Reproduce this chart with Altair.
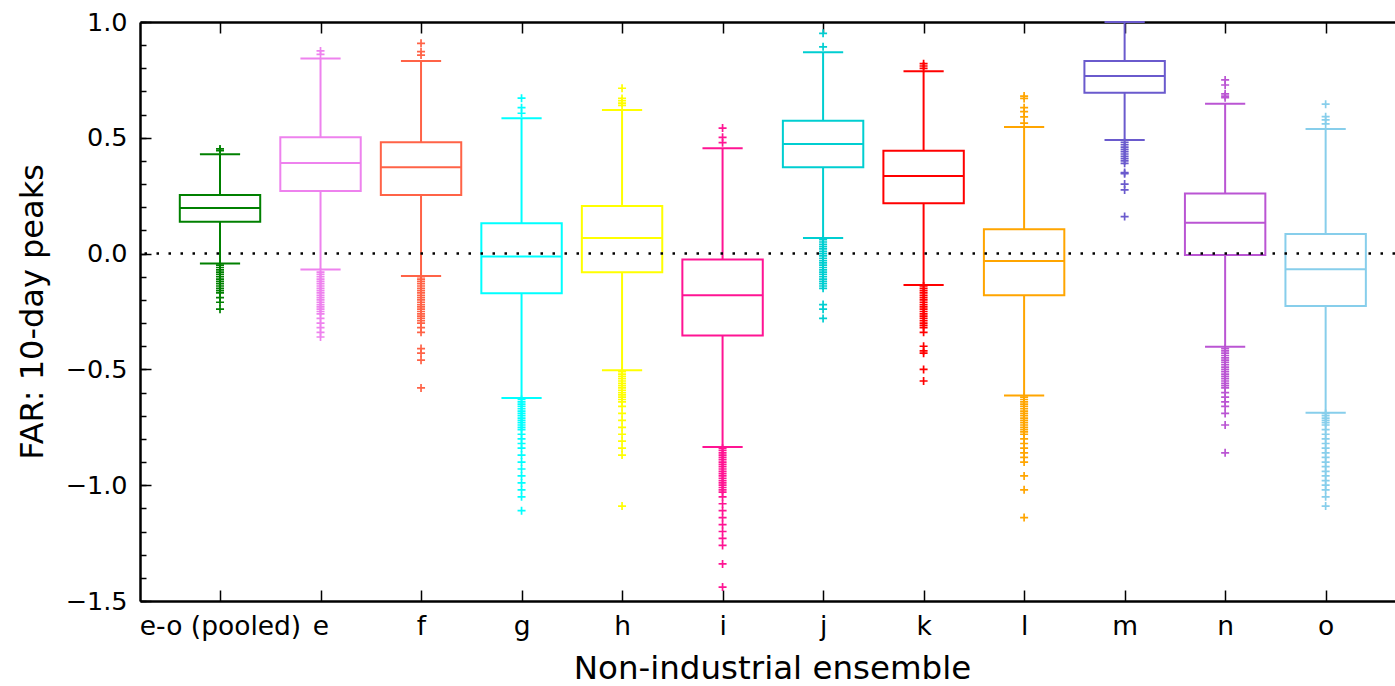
import altair as alt
import pandas as pd

# ---------------- data ----------------
categories = ["e-o (pooled)", "e", "f", "g", "h", "i", "j", "k", "l", "m", "n", "o"]
colors = ["#008000", "#EE82EE", "#FF6347", "#00FFFF", "#FFFF00", "#FF1493",
          "#00CED1", "#FF0000", "#FFA500", "#6A5ACD", "#BA55D3", "#87CEEB"]

q1 = [0.137, 0.270, 0.253, -0.171, -0.081, -0.354, 0.373, 0.217, -0.180, 0.695, -0.006, -0.226]
median = [0.197, 0.391, 0.373, -0.013, 0.067, -0.180, 0.473, 0.335, -0.032, 0.767, 0.133, -0.068]
q3 = [0.253, 0.502, 0.481, 0.131, 0.206, -0.025, 0.574, 0.444, 0.105, 0.832, 0.260, 0.085]
whisker_low = [-0.043, -0.069, -0.097, -0.624, -0.504, -0.835, 0.067, -0.136, -0.613, 0.490, -0.402, -0.687]
whisker_high = [0.429, 0.842, 0.832, 0.584, 0.620, 0.455, 0.869, 0.787, 0.547, 1.000, 0.647, 0.538]

out_pooled = [0.445, 0.452, -0.05, -0.06, -0.07, -0.08, -0.09, -0.10, -0.11, -0.12, -0.13,
              -0.14, -0.15, -0.16, -0.17, -0.19, -0.21, -0.24]
out_e = [0.86, 0.875, -0.08, -0.09, -0.10, -0.11, -0.12, -0.13, -0.14, -0.15, -0.16, -0.17,
         -0.18, -0.19, -0.20, -0.21, -0.22, -0.23, -0.24, -0.25, -0.26, -0.28, -0.30, -0.32,
         -0.34, -0.36]
out_f = [0.857, 0.872, 0.908, -0.10, -0.11, -0.12, -0.13, -0.14, -0.15, -0.16, -0.17, -0.18,
         -0.19, -0.20, -0.21, -0.22, -0.23, -0.24, -0.25, -0.26, -0.27, -0.28, -0.29, -0.30,
         -0.32, -0.34, -0.41, -0.43, -0.46, -0.58]
out_g = [0.606, 0.63, 0.671, -0.63, -0.64, -0.65, -0.66, -0.67, -0.68, -0.69, -0.70, -0.71,
         -0.72, -0.73, -0.74, -0.75, -0.76, -0.78, -0.80, -0.82, -0.84, -0.87, -0.90, -0.93,
         -0.96, -0.99, -1.02, -1.05, -1.11]
out_h = [0.64, 0.65, 0.66, 0.67, 0.714, -0.51, -0.52, -0.53, -0.54, -0.55, -0.56, -0.57, -0.58,
         -0.59, -0.60, -0.61, -0.62, -0.63, -0.64, -0.66, -0.69, -0.72, -0.75, -0.78, -0.81,
         -0.84, -0.87, -1.09]
out_i = [0.479, 0.502, 0.542, -0.84, -0.85, -0.86, -0.87, -0.88, -0.89, -0.90, -0.91, -0.92,
         -0.93, -0.94, -0.95, -0.96, -0.97, -0.98, -0.99, -1.00, -1.01, -1.02, -1.03, -1.05,
         -1.08, -1.11, -1.14, -1.17, -1.20, -1.23, -1.26, -1.34, -1.44]
out_j = [0.893, 0.951, 0.06, 0.05, 0.04, 0.03, 0.02, 0.01, 0.00, -0.01, -0.02, -0.03, -0.04,
         -0.05, -0.06, -0.07, -0.08, -0.09, -0.10, -0.11, -0.12, -0.13, -0.14, -0.15, -0.22,
         -0.24, -0.28]
out_k = [0.80, 0.81, 0.82, -0.14, -0.15, -0.16, -0.17, -0.18, -0.19, -0.20, -0.21, -0.22,
         -0.23, -0.24, -0.25, -0.26, -0.27, -0.28, -0.29, -0.30, -0.31, -0.32, -0.34, -0.40,
         -0.42, -0.43, -0.50, -0.55]
out_l = [0.563, 0.59, 0.613, 0.63, 0.67, 0.68, -0.62, -0.63, -0.64, -0.65, -0.66, -0.67, -0.68,
         -0.69, -0.70, -0.71, -0.72, -0.73, -0.74, -0.75, -0.76, -0.77, -0.78, -0.80, -0.82,
         -0.84, -0.86, -0.88, -0.90, -0.96, -1.02, -1.14]
out_m = [0.48, 0.47, 0.46, 0.45, 0.44, 0.43, 0.42, 0.41, 0.40, 0.39, 0.35, 0.345, 0.30, 0.275,
         0.16]
out_n = [0.673, 0.68, 0.69, 0.728, 0.75, -0.41, -0.42, -0.43, -0.44, -0.45, -0.46, -0.47,
         -0.48, -0.49, -0.50, -0.51, -0.52, -0.53, -0.54, -0.55, -0.56, -0.57, -0.58, -0.60,
         -0.62, -0.64, -0.66, -0.69, -0.74, -0.86]
out_o = [0.56, 0.577, 0.591, 0.645, -0.69, -0.70, -0.71, -0.72, -0.73, -0.74, -0.76, -0.78,
         -0.80, -0.82, -0.84, -0.86, -0.88, -0.90, -0.92, -0.94, -0.96, -0.98, -1.00, -1.02,
         -1.05, -1.09]
outlier_lists = [out_pooled, out_e, out_f, out_g, out_h, out_i, out_j, out_k, out_l, out_m,
                 out_n, out_o]

y_major_vals = [-1.5, -1.0, -0.5, 0.0, 0.5, 1.0]
y_minor_vals = [round(-1.5 + 0.1 * i, 1) for i in range(26)]
zero_level = [0.0]

# ---------------- tables ----------------
pos = list(range(1, len(categories) + 1))
box_df = pd.DataFrame({"cat": categories, "pos": pos, "color": colors, "q1": q1,
                       "med": median, "q3": q3, "lo": whisker_low, "hi": whisker_high})
box_df["left"] = box_df["pos"] - 0.4
box_df["right"] = box_df["pos"] + 0.4
box_df["cl"] = box_df["pos"] - 0.2
box_df["cr"] = box_df["pos"] + 0.2

whisk_df = pd.concat([box_df.assign(y1=box_df.q3, y2=box_df.hi),
                      box_df.assign(y1=box_df.q1, y2=box_df.lo)], ignore_index=True)
cap_df = pd.concat([box_df.assign(yc=box_df.hi), box_df.assign(yc=box_df.lo)],
                   ignore_index=True)
out_df = pd.DataFrame([{"pos": p, "color": c, "v": v}
                       for p, c, lst in zip(pos, colors, outlier_lists) for v in lst])
zero_df = pd.DataFrame({"v0": zero_level})

# ---------------- scales & axes ----------------
FONT = "DejaVu Sans"
xs = alt.Scale(domain=[0.204, 12.69], nice=False, zero=False)
ys = alt.Scale(domain=[-1.5, 1.0], nice=False, zero=False)

label_js = "[" + ",".join("'%s'" % c for c in categories) + "]"

y_main = alt.Axis(orient="left", values=y_major_vals, format=".1f", ticks=False, tickSize=0,
                  labelPadding=13, labelFontSize=25.5, labelFont=FONT, labelColor="black",
                  labelOverlap=False, domain=True, domainColor="black", domainWidth=2.5,
                  grid=False, title="FAR: 10-day peaks", titleFont=FONT, titleFontSize=32,
                  titleFontWeight="normal", titleColor="black", titleX=-98, titleY=289.5,
                  titleBaseline="alphabetic", titleAngle=270)
x_main = alt.Axis(orient="bottom", values=pos, labelExpr=label_js + "[round(datum.value)-1]",
                  ticks=False, tickSize=0, labelPadding=33, labelBaseline="alphabetic",
                  labelFontSize=26.5, labelFont=FONT, labelColor="black", labelFlush=False,
                  labelOverlap=False, domain=True, domainColor="black", domainWidth=2.5,
                  grid=False, title="Non-industrial ensemble", titleFont=FONT,
                  titleFontSize=32.5, titleFontWeight="normal", titleColor="black",
                  titleX=632, titleY=77, titleBaseline="alphabetic")
y_major_ticks = alt.Axis(orient="left", values=y_major_vals, labels=False, domain=False,
                         ticks=True, tickSize=11, offset=-11, tickColor="black",
                         tickWidth=1.5, grid=False, title=None)
y_minor_ticks = alt.Axis(orient="left", values=y_minor_vals, labels=False, domain=False,
                         ticks=True, tickSize=6, offset=-6, tickColor="black",
                         tickWidth=1.5, grid=False, title=None)
x_bottom_ticks = alt.Axis(orient="bottom", values=pos, labels=False, domain=False,
                          ticks=True, tickSize=11, offset=-11, tickColor="black",
                          tickWidth=1.5, grid=False, title=None)
x_top_spine = alt.Axis(orient="top", labels=False, ticks=False, domain=True,
                       domainColor="black", domainWidth=2.5, grid=False, title=None)
x_top_ticks = alt.Axis(orient="top", values=pos, labels=False, domain=False,
                       ticks=True, tickSize=11, offset=-11, tickColor="black",
                       tickWidth=1.5, grid=False, title=None)

LW = 2

boxes = alt.Chart(box_df).mark_rect(fillOpacity=0, strokeWidth=LW).encode(
    x=alt.X("left:Q", scale=xs, axis=x_main),
    x2="right:Q",
    y=alt.Y("q1:Q", scale=ys, axis=y_major_ticks),
    y2="q3:Q",
    stroke=alt.Stroke("color:N", scale=None),
)
medians = alt.Chart(box_df).mark_rule(strokeWidth=LW).encode(
    x=alt.X("left:Q", scale=xs, axis=x_bottom_ticks),
    x2="right:Q",
    y=alt.Y("med:Q", scale=ys, axis=y_minor_ticks),
    color=alt.Color("color:N", scale=None),
)
whiskers = alt.Chart(whisk_df).mark_rule(strokeWidth=LW).encode(
    x=alt.X("pos:Q", scale=xs, axis=x_top_spine),
    y=alt.Y("y1:Q", scale=ys, axis=None),
    y2="y2:Q",
    color=alt.Color("color:N", scale=None),
)
caps = alt.Chart(cap_df).mark_rule(strokeWidth=LW).encode(
    x=alt.X("cl:Q", scale=xs, axis=x_top_ticks),
    x2="cr:Q",
    y=alt.Y("yc:Q", scale=ys, axis=None),
    color=alt.Color("color:N", scale=None),
)
outliers = alt.Chart(out_df).mark_point(shape="M-1,0L1,0M0,-1L0,1", size=64, filled=False,
                                        strokeWidth=1.7, opacity=1).encode(
    x=alt.X("pos:Q", scale=xs, axis=None),
    y=alt.Y("v:Q", scale=ys, axis=None),
    color=alt.Color("color:N", scale=None),
)
zero = alt.Chart(zero_df).mark_rule(color="black", strokeDash=[2.5, 9.5], strokeWidth=2.5).encode(
    y=alt.Y("v0:Q", scale=ys, axis=y_main),
)

chart = alt.layer(boxes, medians, whiskers, caps, outliers, zero).resolve_scale(
    x="shared", y="shared"
).resolve_axis(
    x="independent", y="independent"
).properties(
    width=1255, height=579,
    autosize=alt.AutoSizeParams(type="none"),
    padding={"left": 140, "top": 22, "right": 0, "bottom": 85},
    background="white",
).configure(font=FONT).configure_view(stroke=None)

chart.save("out.html", embed_options={"renderer": "svg", "actions": False})
